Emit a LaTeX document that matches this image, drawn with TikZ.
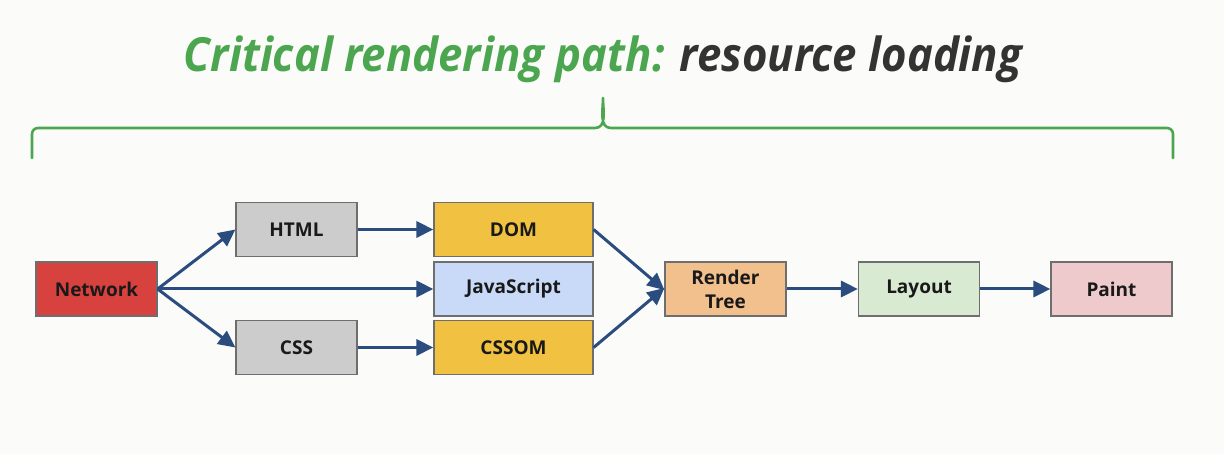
\documentclass[tikz,border=0pt]{standalone}
\usepackage{fontspec}
\setmainfont{Open Sans}
\usetikzlibrary{arrows.meta}
\definecolor{bgc}{HTML}{FBFCF9}
\definecolor{crpgreen}{HTML}{4CA650}
\definecolor{titlegray}{HTML}{333333}
\definecolor{arrowblue}{HTML}{2B4C7E}
\definecolor{netred}{HTML}{D8423E}
\definecolor{boxgray}{HTML}{CCCCCC}
\definecolor{domyellow}{HTML}{F1C242}
\definecolor{jsblue}{HTML}{C9DAF8}
\definecolor{rtorange}{HTML}{F2C08D}
\definecolor{laygreen}{HTML}{D9EAD3}
\definecolor{paintpink}{HTML}{EECACC}
\definecolor{boxborder}{HTML}{6E6E6E}
\tikzset{
  box/.style={draw=boxborder, line width=1.2pt, minimum width=121pt, minimum height=54pt,
    inner sep=0pt, align=center, font=\fontsize{19}{23}\selectfont\bfseries, text=black!90},
  widebox/.style={box, minimum width=159pt},
  flow/.style={draw=arrowblue, line width=3pt, -{Triangle[length=17pt,width=16pt]}},
  brace/.style={draw=crpgreen, line width=2.6pt, line join=round, line cap=round}
}
\begin{document}
\begin{tikzpicture}[x=1pt,y=-1pt]
\fill[bgc] (0,0) rectangle (1224,454);
\useasboundingbox (0,0) rectangle (1224,454);
% title
\node (title) at (603,59) {\scalebox{0.93}[1]{\fontsize{47}{50}\selectfont\bfseries\itshape
  \textcolor{crpgreen}{Critical rendering path:} \textcolor{titlegray}{resource loading}}};
% brace
\coordinate (bl) at (32,158);
\coordinate (br) at (1173,158);
\coordinate (bt) at (603,98);
\draw[brace] (bl) -- (32,134) to[out=90,in=180] (38,128) -- (595,128)
  to[out=0,in=-90] (bt) to[out=-90,in=180] (611,128) -- (1167,128)
  to[out=0,in=90] (1173,134) -- (br);
% nodes
\node[box, fill=netred] (net) at (96.5,289) {Network};
\node[box, fill=boxgray] (html) at (296.5,229.5) {HTML};
\node[box, fill=boxgray] (css) at (296.5,347.5) {CSS};
\node[widebox, fill=domyellow] (dom) at (513.5,229.5) {DOM};
\node[widebox, fill=jsblue] (js) at (513.5,289) {JavaScript};
\node[widebox, fill=domyellow] (cssom) at (513.5,347.5) {CSSOM};
\node[box, fill=rtorange, font=\fontsize{19}{24}\selectfont\bfseries] (rt) at (725.5,289) {Render\\Tree};
\node[box, fill=laygreen] (lay) at (919,289) {Layout};
\node[box, fill=paintpink] (paint) at (1111.5,289) {Paint};
% connectors
\draw[flow] (net.east) -- (html.west);
\draw[flow] (net.east) -- (js.west);
\draw[flow] (net.east) -- (css.west);
\draw[flow] (html) -- (dom);
\draw[flow] (css) -- (cssom);
\draw[flow] (dom.east) -- ([yshift=-1pt]rt.west);
\draw[flow] (cssom.east) -- ([yshift=1pt]rt.west);
\draw[flow] (rt) -- (lay);
\draw[flow] (lay) -- (paint);
\end{tikzpicture}
\end{document}
